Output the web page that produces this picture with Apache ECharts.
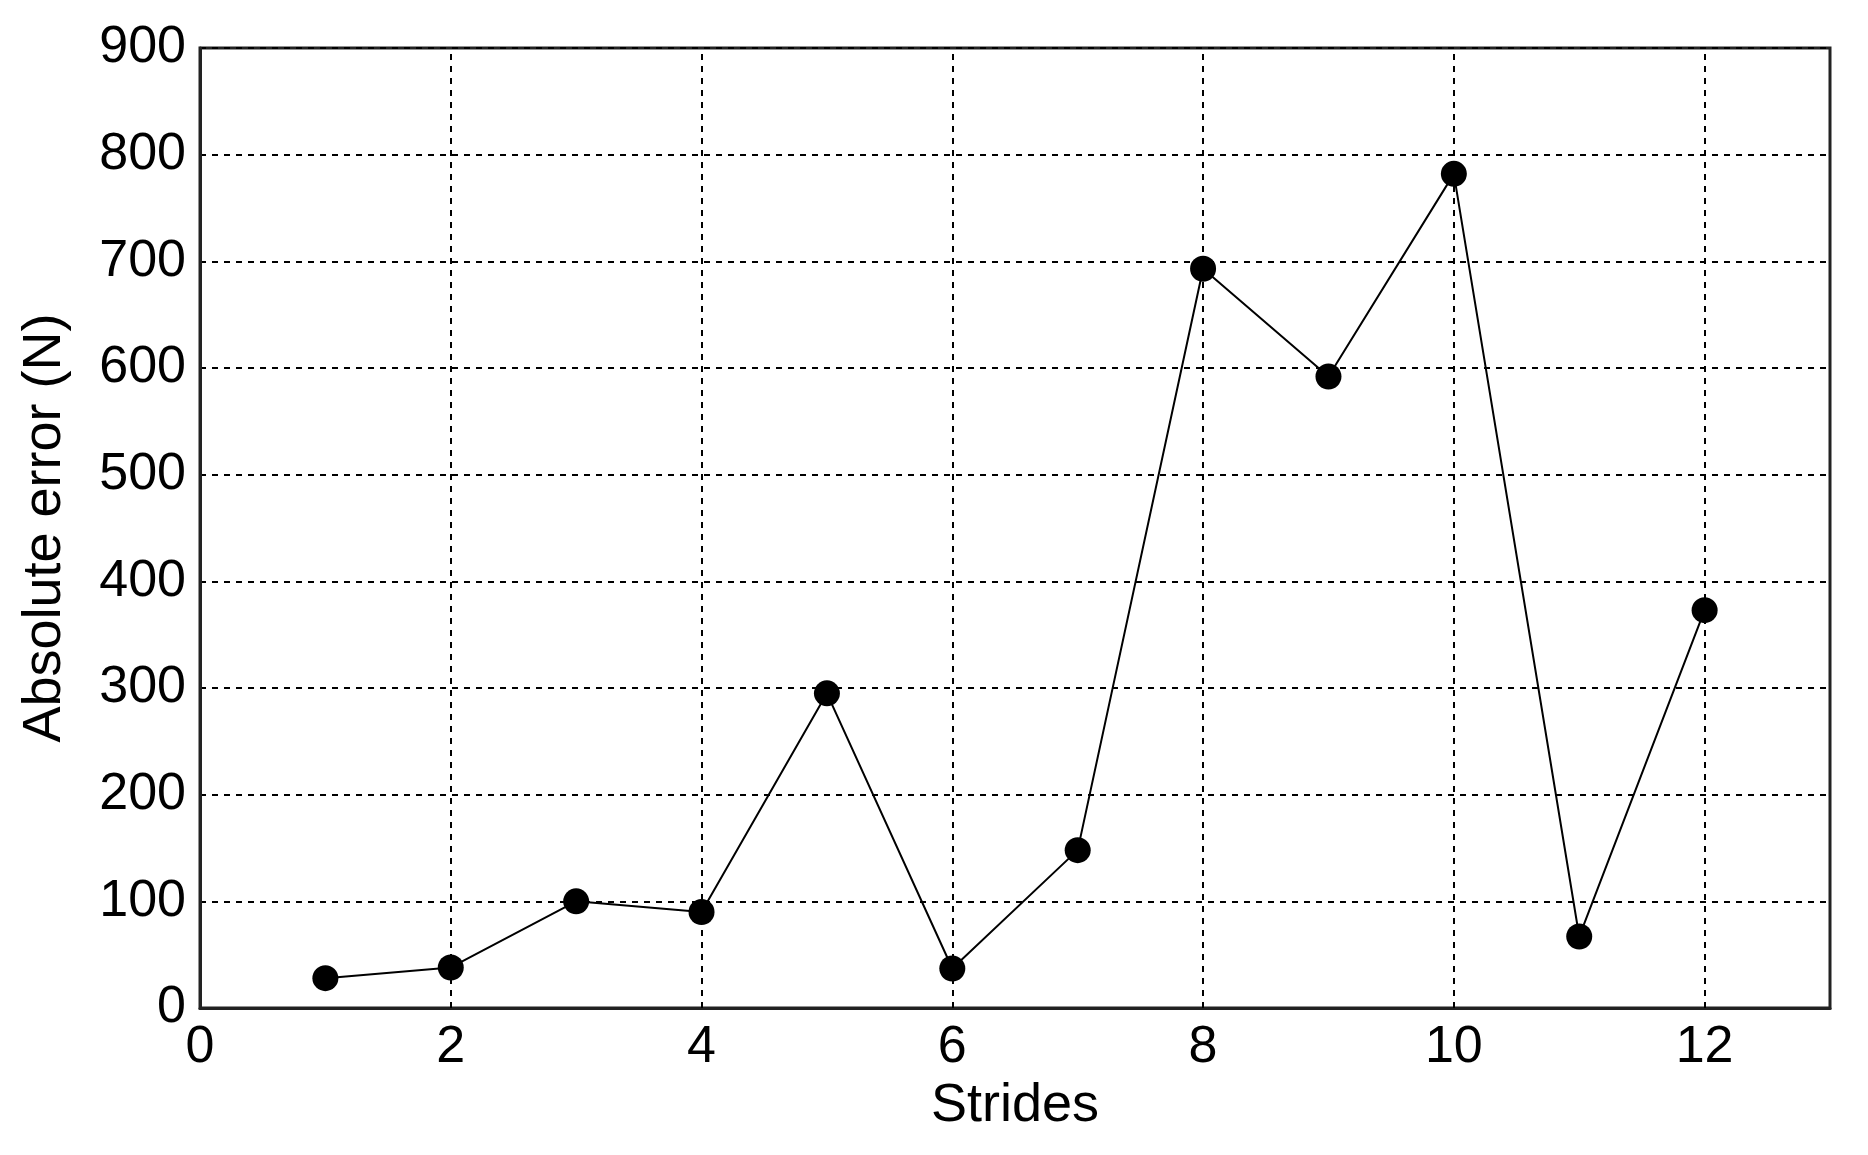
<!DOCTYPE html><html><head><meta charset="utf-8"><script src="https://cdn.jsdelivr.net/npm/echarts@6/dist/echarts.min.js"></script>
<style>html,body{margin:0;background:#fff}#c{width:1868px;height:1155px}</style></head><body><div id="c"></div><script>
const strides=[1,2,3,4,5,6,7,8,9,10,11,12];
const absError=[28,38,100,90,295,37,148,693,592,782,67,373];
const font='Liberation Sans, Arial, sans-serif';
const ch=echarts.init(document.getElementById('c'));
const split={show:true,lineStyle:{color:'#000',type:[6,6],width:2}};
ch.setOption({animation:false,
grid:{left:200,right:38,top:48,bottom:147,show:true,borderColor:'#222',borderWidth:3},
xAxis:{type:'value',min:0,max:13,interval:1,name:'Strides',nameLocation:'middle',nameGap:70,
 nameTextStyle:{fontSize:54,fontFamily:font,color:'#000'},
 axisLine:{lineStyle:{color:'#222',width:3}},axisTick:{show:false},
 axisLabel:{fontSize:52,fontFamily:font,color:'#000',margin:14,formatter:v=>v%2===0&&v<13?String(v):''},
 splitLine:{show:false}},
yAxis:{type:'value',min:0,max:900,interval:100,name:'Absolute error (N)',nameLocation:'middle',nameGap:128,
 nameTextStyle:{fontSize:54,fontFamily:font,color:'#000'},
 axisLine:{lineStyle:{color:'#222',width:3}},axisTick:{show:false},
 axisLabel:{fontSize:52,fontFamily:font,color:'#000',margin:14},splitLine:split},
series:[{type:'line',data:strides.map((s,i)=>[s,absError[i]]),symbol:'circle',symbolSize:26,
 itemStyle:{color:'#000'},lineStyle:{color:'#000',width:2}},
 {type:'line',data:[],markLine:{silent:true,symbol:'none',label:{show:false},lineStyle:split.lineStyle,
  data:[2,4,6,8,10,12].map(v=>({xAxis:v}))}}]
});
</script></body></html>
